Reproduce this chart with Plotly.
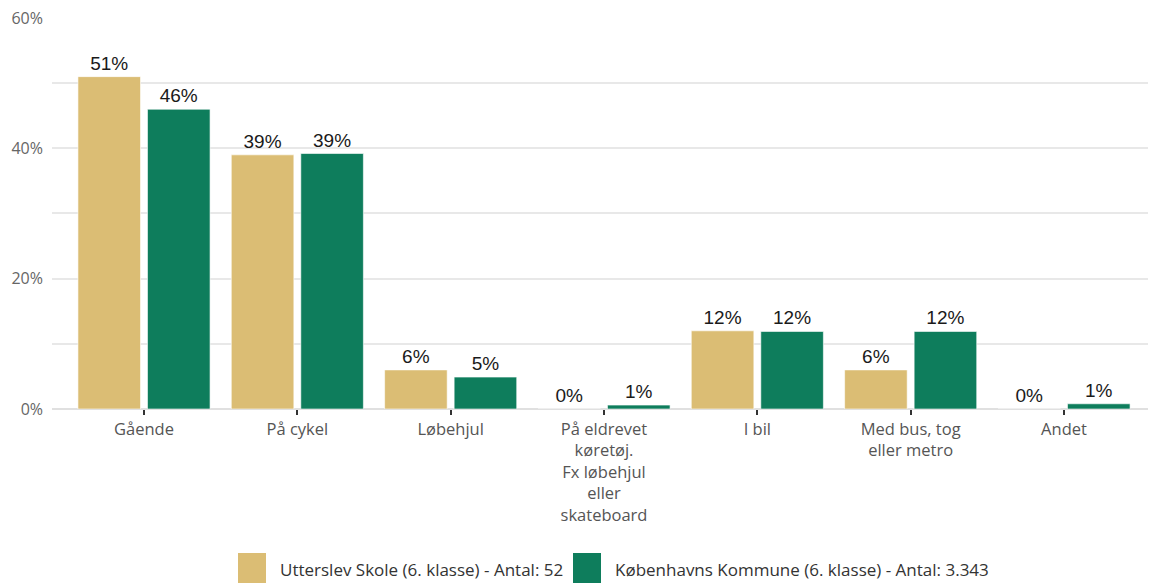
import plotly.graph_objects as go

categories = ["Gående", "På cykel", "Løbehjul",
              "På eldrevet<br>køretøj.<br>Fx løbehjul<br>eller<br>skateboard",
              "I bil", "Med bus, tog<br>eller metro", "Andet"]
utterslev = [51, 39, 6, 0, 12, 6, 0]
kommune = [46, 39.2, 4.9, 0.6, 11.9, 11.9, 0.8]
series_names = ["Utterslev Skole (6. klasse) - Antal: 52",
                "Københavns Kommune (6. klasse) - Antal: 3.343"]
colors = ["#dbbd74", "#0e7d5c"]
y_ticks = [0, 10, 20, 30, 40, 50, 60]
y_ticktext = ["0%", "", "20%", "", "40%", "", "60%"]

# the page body has an 8px margin, so the figure is offset by 8px
OFF = 8
W, H = 1156 - OFF, 583 - OFF
L, R, T = 52 - OFF, 0, 17 - OFF
B = H - (409 - OFF)
PW, PH = W - L - R, H - T - B
YMAX = 60.15


def py(page_y):
    """page pixel y -> paper coordinate"""
    fy = page_y - OFF
    return (T + PH - fy) / PH


def px(page_x):
    fx = page_x - OFF
    return (fx - L) / PW


fig = go.Figure()
for name, vals, col in zip(series_names, [utterslev, kommune], colors):
    fig.add_trace(go.Bar(
        x=categories, y=vals, name=name,
        marker=dict(color=col, line=dict(color="rgba(255,255,255,0.6)", width=1)),
        text=[f"{round(v)}%" for v in vals], textposition="outside",
        textfont=dict(family="Liberation Sans, Arial", size=19, color="#1a1a1a"),
        cliponaxis=False, showlegend=False,
    ))

fig.update_layout(
    width=W, height=H,
    margin=dict(l=L, r=R, t=T, b=B, autoexpand=False),
    paper_bgcolor="white", plot_bgcolor="white",
    barmode="group", bargap=0.093, bargroupgap=0.1,
    font=dict(family="Open Sans, Noto Sans, sans-serif", color="#555"),
    xaxis=dict(range=[-0.6, 6.6], ticks="outside", ticklen=5, tickwidth=2,
               tickcolor="#333", tickfont=dict(size=16.5, color="#555"),
               showgrid=False, showline=False, zeroline=False, automargin=False),
    yaxis=dict(range=[0, YMAX], tickvals=y_ticks, ticktext=y_ticktext,
               tickfont=dict(size=16, color="#666"), gridcolor="#e8e8e8",
               gridwidth=1.5, zeroline=True, zerolinecolor="#e0e0e0",
               zerolinewidth=1.5, ticks="", ticklabelstandoff=8, automargin=False,
               ticklabeloverflow="allow"),
)

# Legend drawn as swatches + text at the bottom
legend_items = [(238, 266, 278), (573, 601, 613)]
for (x0, x1, tx), name, col in zip(legend_items, series_names, colors):
    fig.add_shape(type="rect", xref="paper", yref="paper",
                  x0=px(x0), x1=px(x1), y0=py(583), y1=py(553),
                  fillcolor=col, line=dict(width=0), layer="above")
    fig.add_annotation(xref="paper", yref="paper", x=px(tx), y=py(569),
                       text=name, showarrow=False,
                       xanchor="left", yanchor="middle",
                       font=dict(size=17, color="#333",
                                 family="Open Sans, Noto Sans, sans-serif"))

fig.write_html("out.html")
